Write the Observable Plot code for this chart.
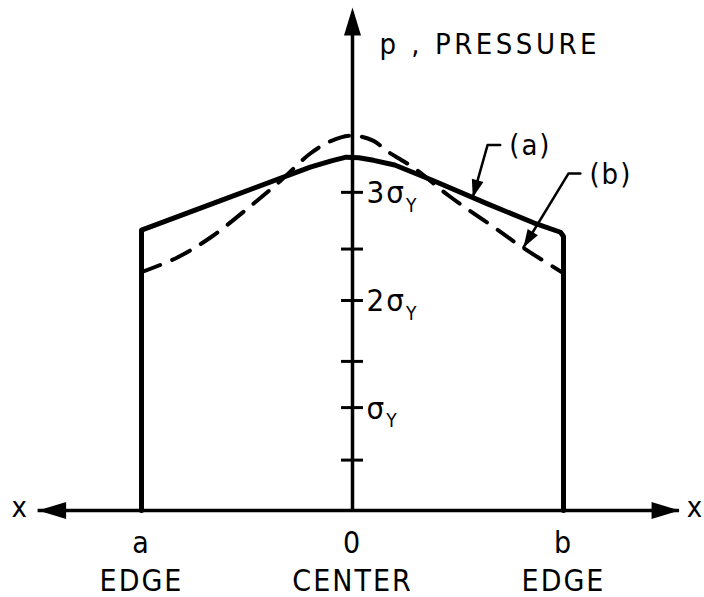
<!DOCTYPE html>
<html><head><meta charset="utf-8">
<script src="https://cdn.jsdelivr.net/npm/d3@7"></script>
<script src="https://cdn.jsdelivr.net/npm/@observablehq/plot@0.6"></script>
<style>body{margin:0;background:#fff} svg{display:block}</style>
</head><body><div id="chart"></div>
<script>
// ---- data (x: position across the contact, a = -1, 0 = centre, b = +1; p in units of sigma_Y)
const edgeX = [-1, 0, 1];
const edgeSymbols = ["a", "0", "b"];
const edgeNames = ["EDGE", "CENTER", "EDGE"];

// curve (a): solid
const curveAX = [-1, -1, -0.6, -0.2, -0.1, -0.03, 0.03, 0.1, 0.2, 0.384, 0.64, 0.858, 0.986, 1, 1];
const curveAP = [0, 2.67, 2.97, 3.27, 3.33, 3.365, 3.36, 3.335, 3.29, 3.14, 2.92, 2.74, 2.65, 2.61, 0];

// curve (b): dashed
const curveBX = [-1, -0.83, -0.673, -0.483, -0.341, -0.2, -0.1, 0, 0.1, 0.166, 0.3, 0.455, 0.668, 0.81, 1];
const curveBP = [2.27, 2.41, 2.60, 2.90, 3.14, 3.40, 3.52, 3.57, 3.52, 3.42, 3.25, 3.00, 2.70, 2.50, 2.26];

// pressure-axis ticks and labels
const tickP = [0.48, 0.98, 1.42, 2.0, 2.49, 3.03];
const sigmaLabelP = [0.98, 2.0, 3.03];
const sigmaLabels = ["σ", "2σ", "3σ"];
const sigmaSub = "Y";

// axes extents
const axisXMin = -1.49, axisXMax = 1.55, axisPMax = 4.79;
const axisTitle = "p , PRESSURE";
const axisXName = "x";

// curve annotations (leader polyline, last point = arrow tip)
const leaderLabels = ["(a)", "(b)"];
const leaderAX = [0.70, 0.64, 0.57], leaderAP = [3.48, 3.48, 2.98];
const leaderBX = [1.08, 1.024, 0.81], leaderBP = [3.21, 3.21, 2.505];

// ---- build
const W = 704, H = 597;
const xDomain = [-352 / 211, 352 / 211];
const yDomain = [(510 - 597) / 105, 510 / 105];
const xs = Plot.scale({x: {domain: xDomain, range: [0, W]}});
const ys = Plot.scale({y: {domain: yDomain, range: [H, 0]}});

const zip = (X, P) => X.map((x, i) => ({x, p: P[i]}));
const curveA = zip(curveAX, curveAP);
const curveB = zip(curveBX, curveBP);
const leaderA = zip(leaderAX, leaderAP);
const leaderB = zip(leaderBX, leaderBP);

function headAngle(pts) {
  const a = pts[pts.length - 2], b = pts[pts.length - 1];
  const dx = xs.apply(b.x) - xs.apply(a.x), dy = ys.apply(b.p) - ys.apply(a.p);
  return Math.atan2(dx, -dy) * 180 / Math.PI;
}
const bigHead = {draw(ctx) { ctx.moveTo(0, 0); ctx.lineTo(8.5, 28); ctx.lineTo(-8.5, 28); ctx.closePath(); }};
const smallHead = {draw(ctx) { ctx.moveTo(0, 0); ctx.lineTo(6, 18); ctx.lineTo(-6, 18); ctx.closePath(); }};

const axisHeads = [
  {x: axisXMin, p: 0, r: -90},
  {x: axisXMax, p: 0, r: 90},
  {x: 0, p: axisPMax, r: 0}
];
const leaderHeads = [leaderA, leaderB].map(L => ({x: L[L.length - 1].x, p: L[L.length - 1].p, r: headAngle(L)}));
const leaderText = [leaderA, leaderB].map((L, i) => ({x: L[0].x, p: L[0].p, t: leaderLabels[i]}));
const edges = edgeX.map((x, i) => ({x, s: edgeSymbols[i], n: edgeNames[i]}));
const sigmas = sigmaLabelP.map((p, i) => ({p, t: sigmaLabels[i]}));

const FONT = "'DejaVu Sans Condensed', 'DejaVu Sans', sans-serif";
const plot = Plot.plot({
  width: W, height: H,
  margin: 0,
  x: {domain: xDomain, range: [0, W], axis: null},
  y: {domain: yDomain, range: [H, 0], axis: null},
  style: {fontFamily: FONT, background: "white", color: "black"},
  marks: [
    Plot.ruleY([0], {x1: axisXMin, x2: axisXMax, stroke: "black", strokeWidth: 3.5}),
    Plot.ruleX([0], {y1: 0, y2: axisPMax - 0.1, stroke: "black", strokeWidth: 3.5}),
    Plot.ruleY(tickP, {x1: -0.052, x2: 0.052, stroke: "black", strokeWidth: 3}),
    Plot.line(curveB, {x: "x", y: "p", curve: "catmull-rom", stroke: "black", strokeWidth: 4, strokeDasharray: "20,13"}),
    Plot.line(curveA, {x: "x", y: "p", curve: "linear", stroke: "black", strokeWidth: 5, strokeLinejoin: "round"}),
    Plot.line(leaderA, {x: "x", y: "p", stroke: "black", strokeWidth: 2.5}),
    Plot.line(leaderB, {x: "x", y: "p", stroke: "black", strokeWidth: 2.5}),
    Plot.dot(axisHeads, {x: "x", y: "p", rotate: "r", symbol: bigHead, fill: "black", stroke: "none"}),
    Plot.dot(leaderHeads, {x: "x", y: "p", rotate: "r", symbol: smallHead, fill: "black", stroke: "none"}),
    Plot.text(sigmas, {x: 0, y: "p", text: "t", textAnchor: "start", dx: 14, dy: 1, fontSize: 31, fill: "black"}),
    Plot.text(edges, {x: "x", y: 0, text: "s", dy: 33, fontSize: 30, fill: "black"}),
    Plot.text(edges, {x: "x", y: 0, text: "n", dy: 71, fontSize: 30, fill: "black"}),
    Plot.text([axisTitle], {x: 0, y: axisPMax, text: d => d, textAnchor: "start", dx: 27, dy: 37, fontSize: 29, fill: "black"}),
    Plot.text([axisXMin, axisXMax], {x: d => d, y: 0, text: () => axisXName, fontSize: 29, fill: "black", dy: -3}),
    Plot.text(leaderText, {x: "x", y: "p", text: "t", textAnchor: "start", dx: 9, dy: 1, fontSize: 29, fill: "black"})
  ]
});
document.getElementById("chart").appendChild(plot);

// post-process: subscripts and letter spacing
const svg = d3.select(plot);
svg.selectAll("text").attr("letter-spacing", 2);
svg.selectAll("text").filter(function() { return this.textContent === axisTitle; }).attr("letter-spacing", 3.5);
svg.selectAll("text").filter(function() { return this.textContent.includes("σ"); })
  .append("tspan").attr("dy", "0.45em").attr("font-size", 19).attr("letter-spacing", 0).text(sigmaSub);
svg.selectAll("text").filter(function() { return this.textContent === axisXName; })
  .each(function(d, i) { d3.select(this).attr("dx", i === 0 ? -18 : 16); });
</script>
</body></html>
